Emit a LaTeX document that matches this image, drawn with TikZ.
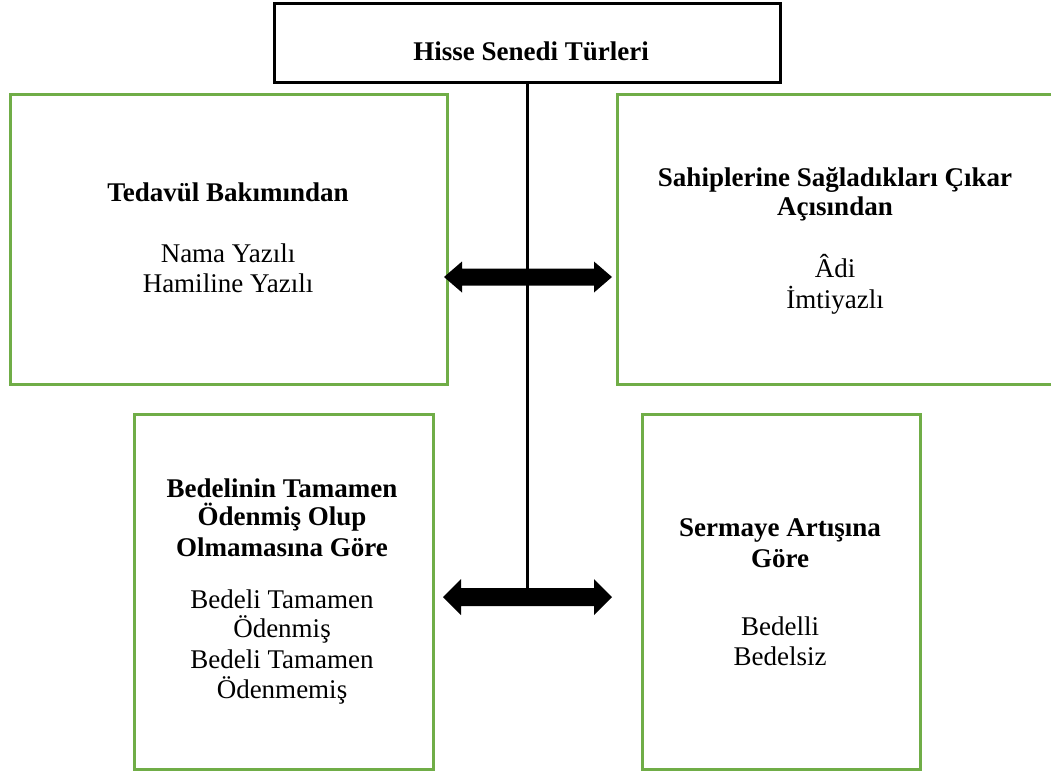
\documentclass[tikz,border=0pt]{standalone}
\usepackage{fontspec}
\setmainfont{Liberation Serif}
\usetikzlibrary{calc}
\definecolor{grn}{HTML}{70AD47}
\tikzset{
  gbox/.style={draw=grn, line width=2.5pt, inner sep=0pt, anchor=north west},
  tbox/.style={draw=black, line width=3pt, inner sep=0pt, anchor=north west},
  hd/.style={font=\bfseries\fontsize{27}{31}\selectfont, anchor=base, inner sep=0pt},
  it/.style={font=\fontsize{27}{31}\selectfont, anchor=base, inner sep=0pt},
  stem/.style={draw=black, line width=3pt},
  bigarrow/.style={fill=black}
}
\begin{document}
\begin{tikzpicture}[x=1pt,y=-1pt]
\clip (0,0) rectangle (1051,772);
\fill[white] (0,0) rectangle (1051,772);
% top box
\node[tbox, minimum width=506pt, minimum height=79pt] (top) at (273,2) {};
\node[hd] (toptxt) at (531,60) {Hisse Senedi Türleri};
% boxes
\node[gbox, minimum width=437pt, minimum height=290pt] (lt) at (9,93) {};
\node[gbox, minimum width=445pt, minimum height=290pt] (rt) at (616,93) {};
\node[gbox, minimum width=299pt, minimum height=355pt] (lb) at (133,413) {};
\node[gbox, minimum width=278pt, minimum height=355pt] (rb) at (641,413) {};
% stem
\coordinate (stemend) at (527,590);
\draw[stem] (top.south -| stemend) -- (stemend);
% arrows
\coordinate (a1l) at (444,277);
\coordinate (a1r) at (612,277);
\fill[bigarrow] (a1l) -- ++(18,-15.5) -- ++(0,7) -- ($(a1r)+(-18,-8.5)$) -- ++(0,-7) -- (a1r)
  -- ++(-18,15.5) -- ++(0,-7) -- ($(a1l)+(18,8.5)$) -- ++(0,7) -- cycle;
\coordinate (a2l) at (443,597);
\coordinate (a2r) at (612,597);
\fill[bigarrow] (a2l) -- ++(18,-18) -- ++(0,9) -- ($(a2r)+(-18,-9)$) -- ++(0,-9) -- (a2r)
  -- ++(-18,18) -- ++(0,-9) -- ($(a2l)+(18,9)$) -- ++(0,9) -- cycle;
% left top text
\node[hd] (lt1) at (228,201) {Tedavül Bakımından};
\node[it] (lt2) at (228,262) {Nama Yazılı};
\node[it] (lt3) at (228,292) {Hamiline Yazılı};
% right top text
\node[hd] (rt1) at (835,186) {Sahiplerine Sağladıkları Çıkar};
\node[hd] (rt2) at (835,215) {Açısından};
\node[it] (rt3) at (835,277) {Âdi};
\node[it] (rt4) at (835,308) {İmtiyazlı};
% left bottom text
\node[hd] (lb1) at (282,497) {Bedelinin Tamamen};
\node[hd] (lb2) at (282,525) {Ödenmiş Olup};
\node[hd] (lb3) at (282,556) {Olmamasına Göre};
\node[it] (lb4) at (282,608) {Bedeli Tamamen};
\node[it] (lb5) at (282,637) {Ödenmiş};
\node[it] (lb6) at (282,668) {Bedeli Tamamen};
\node[it] (lb7) at (282,698) {Ödenmemiş};
% right bottom text
\node[hd] (rb1) at (780,536) {Sermaye Artışına};
\node[hd] (rb2) at (780,567) {Göre};
\node[it] (rb3) at (780,635) {Bedelli};
\node[it] (rb4) at (780,665) {Bedelsiz};
\end{tikzpicture}
\end{document}
